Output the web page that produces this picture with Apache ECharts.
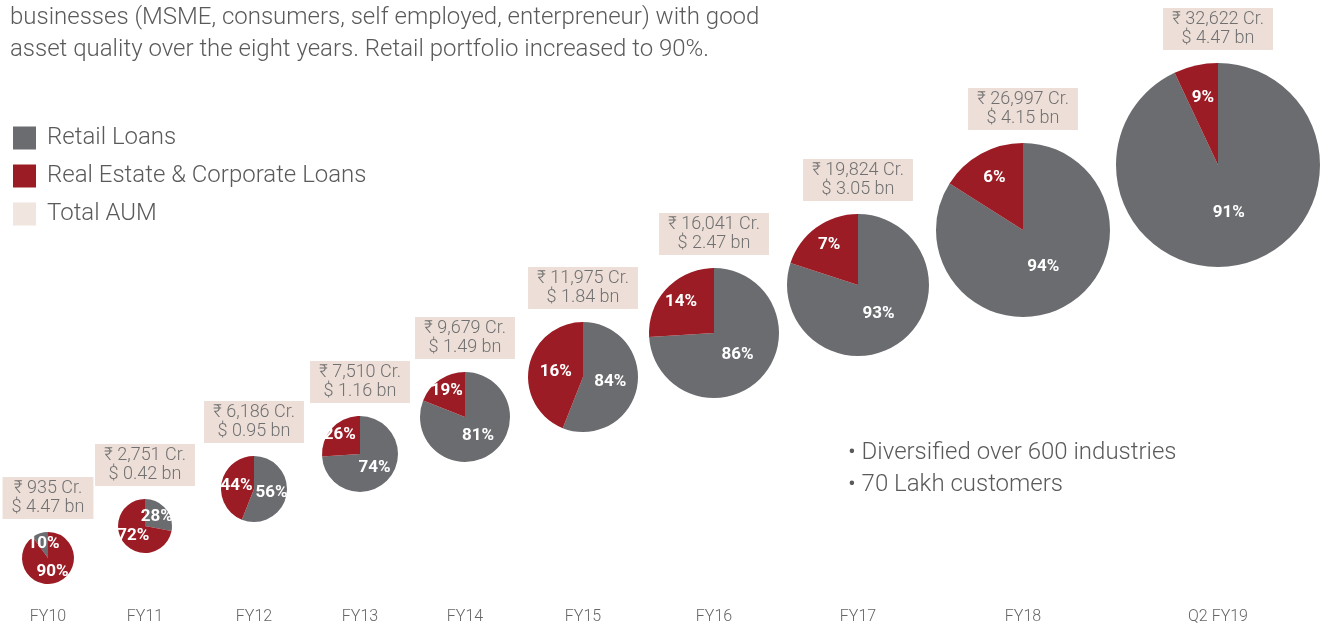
<!DOCTYPE html>
<html>
<head>
<meta charset="utf-8">
<title>AUM mix</title>
<script src="https://cdn.jsdelivr.net/npm/echarts@6/dist/echarts.min.js"></script>
<style>
  html, body { margin: 0; padding: 0; background: #fff; }
  #aum-chart { width: 1321px; height: 627px; }
</style>
</head>
<body>
<div id="aum-chart"></div>
<script>
  // data
  var categories = ['FY10', 'FY11', 'FY12', 'FY13', 'FY14', 'FY15', 'FY16', 'FY17', 'FY18', 'Q2 FY19']
  var retailPct = [10, 28, 56, 74, 81, 84, 86, 93, 94, 91]
  var realEstatePct = [90, 72, 44, 26, 19, 16, 14, 7, 6, 9]
  // slice sizes as they are drawn in the picture (not always the printed %)
  var retailArc = [10, 28, 56, 74, 81, 56, 74, 80, 84, 93]
  var realEstateArc = [90, 72, 44, 26, 19, 44, 26, 20, 16, 7]
  var aumCr = [935, 2751, 6186, 7510, 9679, 11975, 16041, 19824, 26997, 32622]
  var aumUsd = [4.47, 0.42, 0.95, 1.16, 1.49, 1.84, 2.47, 3.05, 4.15, 4.47]

  // layout (pixels)
  var pieX = [48, 145, 254, 360, 465, 583, 714, 858, 1023, 1218]
  var pieY = [558, 526, 489, 454, 417, 377, 333, 285, 230, 165]
  var pieR = [26, 27, 33, 38, 45, 55, 65, 71, 87, 102]

  var FONT = 'Roboto, "Noto Sans", sans-serif'
  var GREY = '#6b6c70'
  var RED = '#9b1c24'
  var BEIGE = '#eddfd8'

  // push the % label along the slice's middle angle
  function labelShift(i, j) {
    var arcs = [retailArc[i], realEstateArc[i]]
    var total = arcs[0] + arcs[1]
    var before = j === 0 ? 0 : arcs[0]
    var mid = (before + arcs[j] / 2) / total * 360
    var a = (i === 0 ? -1 : 1) * mid * Math.PI / 180
    var k = (arcs[j] / total < 0.35 && pieR[i] > 35) ? 0.65 : 0.45
    var d = (k - 0.5) * pieR[i]
    return {dx: Math.sin(a) * d, dy: -Math.cos(a) * d}
  }

  var series = categories.map(function (cat, i) {
    return {
      type: 'pie',
      name: cat,
      center: [pieX[i], pieY[i]],
      radius: [0, pieR[i]],
      startAngle: 90,
      clockwise: i !== 0,
      avoidLabelOverlap: false,
      silent: true,
      label: {
        show: true,
        position: 'inside',
        color: '#fff',
        fontFamily: FONT,
        fontSize: 17,
        fontWeight: 'bold',
        formatter: function (p) {
          return (p.dataIndex === 0 ? retailPct[i] : realEstatePct[i]) + '%'
        }
      },
      labelLine: {show: false},
      labelLayout: function (p) {
        return labelShift(i, p.dataIndex)
      },
      emphasis: {disabled: true},
      data: [
        {name: 'Retail Loans', value: retailArc[i], itemStyle: {color: GREY}},
        {name: 'Real Estate & Corporate Loans', value: realEstateArc[i], itemStyle: {color: RED}}
      ]
    }
  })
  series.push({
    type: 'scatter',
    name: 'Total AUM',
    data: [],
    itemStyle: {color: BEIGE}
  })

  var boxes = categories.map(function (cat, i) {
    return {
      type: 'text',
      silent: true,
      style: {
        text: '₹ ' + aumCr[i].toLocaleString('en-US') + ' Cr.\n$ ' + aumUsd[i].toFixed(2) + ' bn',
        x: pieX[i],
        y: pieY[i] - pieR[i] - 13,
        align: 'center',
        verticalAlign: 'bottom',
        fontFamily: FONT,
        fontSize: 18,
        fontWeight: 300,
        lineHeight: 19,
        fill: '#707070',
        backgroundColor: BEIGE,
        padding: [2, 9]
      }
    }
  })

  var option = {
    animation: false,
    backgroundColor: '#fff',
    grid: {left: 0, right: 0, top: 0, bottom: 27},
    xAxis: {
      type: 'value',
      min: 0,
      max: 1321,
      splitLine: {show: false},
      axisLine: {show: false},
      axisTick: {show: false},
      axisLabel: {
        customValues: pieX,
        formatter: function (v) {
          return categories[pieX.indexOf(v)]
        },
        margin: 9,
        color: '#666',
        fontFamily: FONT,
        fontSize: 16,
        fontWeight: 300
      }
    },
    yAxis: {type: 'value', show: false, min: 0, max: 1},
    legend: {
      orient: 'vertical',
      left: 13,
      top: 126,
      padding: 0,
      icon: 'rect',
      itemWidth: 23,
      itemHeight: 23,
      itemGap: 14,
      selectedMode: false,
      data: ['Retail Loans', 'Real Estate & Corporate Loans', 'Total AUM'],
      textStyle: {
        color: '#5a5a5a',
        fontFamily: FONT,
        fontSize: 24,
        fontWeight: 300,
        padding: [0, 0, 0, 6]
      }
    },
    graphic: [{
      type: 'text',
      silent: true,
      style: {
        text: 'businesses (MSME, consumers, self employed, enterpreneur) with good\nasset quality over the eight years. Retail portfolio increased to 90%.',
        x: 10,
        y: 2,
        fontFamily: FONT,
        fontSize: 24,
        fontWeight: 300,
        lineHeight: 32,
        fill: '#5a5a5a'
      }
    }, {
      type: 'text',
      silent: true,
      style: {
        text: '• Diversified over 600 industries\n• 70 Lakh customers',
        x: 848,
        y: 437,
        fontFamily: FONT,
        fontSize: 24,
        fontWeight: 300,
        lineHeight: 32,
        fill: '#5a5a5a'
      }
    }].concat(boxes),
    series: series
  }

  var aumChart = echarts.init(document.getElementById('aum-chart'))
  aumChart.setOption(option)
</script>
</body>
</html>
